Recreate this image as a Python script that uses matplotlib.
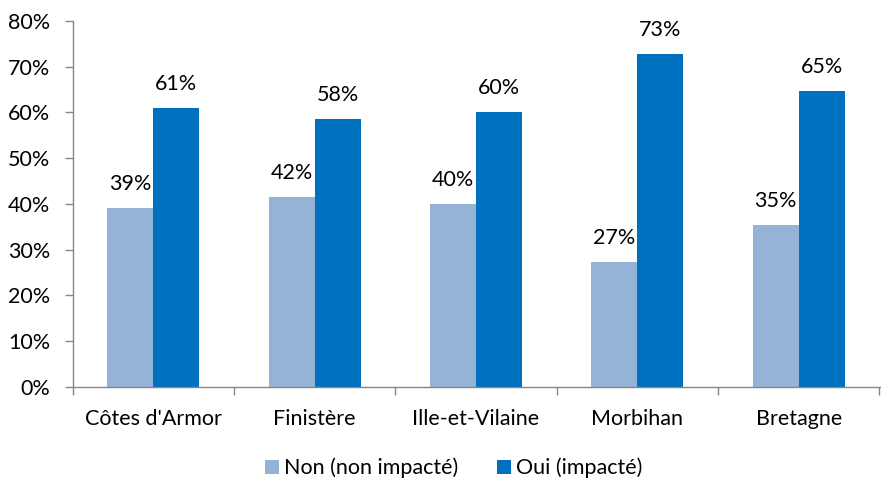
import matplotlib
matplotlib.use("Agg")
import matplotlib.pyplot as plt
import numpy as np
from matplotlib.patches import Patch

categories = ["Côtes d'Armor", "Finistère", "Ille-et-Vilaine", "Morbihan", "Bretagne"]
non_impacte = [39.1, 41.5, 40.0, 27.3, 35.4]
oui_impacte = [60.9, 58.5, 60.0, 72.7, 64.6]
series_names = ["Non (non impacté)", "Oui (impacté)"]
yticks = [0, 10, 20, 30, 40, 50, 60, 70, 80]

plt.rcParams['font.family'] = ['Lato', 'DejaVu Sans']
FS = 15.5

fig = plt.figure(figsize=(8.81, 4.84), dpi=100)
ax = fig.add_axes([0.0825, 0.201, 0.9175, 0.756])

light = "#95B3D7"
dark = "#0070C0"
x = np.arange(len(categories))
w = 0.285
b1 = ax.bar(x - w/2, non_impacte, w, color=light, label=series_names[0])
b2 = ax.bar(x + w/2, oui_impacte, w, color=dark, label=series_names[1])

for bars, vals in ((b1, non_impacte), (b2, oui_impacte)):
    for r, v in zip(bars, vals):
        ax.annotate(f"{round(v):.0f}%", (r.get_x() + r.get_width()/2, v),
                    xytext=(0, 10), textcoords="offset points",
                    ha="center", va="bottom", fontsize=FS, color="black")

ax.set_ylim(0, 80)
ax.set_xlim(-0.5, len(categories) - 0.5 + 0.01)
ax.set_yticks(yticks)
ax.set_yticklabels([f"{t}%" for t in yticks], fontsize=FS)

ax.set_xticks(x)
ax.set_xticklabels(categories, fontsize=FS)
ax.tick_params(axis='x', which='major', length=0, pad=16)
ax.set_xticks(np.arange(len(categories) + 1) - 0.5, minor=True)
ax.tick_params(axis='x', which='minor', length=6, color="#868686", width=1)
ax.tick_params(axis='y', length=6, color="#868686", width=1, pad=10)

for s in ("top", "right"):
    ax.spines[s].set_visible(False)
for s in ("left", "bottom"):
    ax.spines[s].set_color("#868686")
    ax.spines[s].set_linewidth(1)

handles = [Patch(facecolor=light), Patch(facecolor=dark)]
fig.legend(handles, series_names, loc="center", bbox_to_anchor=(0.515, 0.033),
           ncol=2, frameon=False, fontsize=FS, handlelength=0.65, handleheight=0.65,
           handletextpad=0.25, columnspacing=1.8)

fig.savefig("out.png", dpi=100)
